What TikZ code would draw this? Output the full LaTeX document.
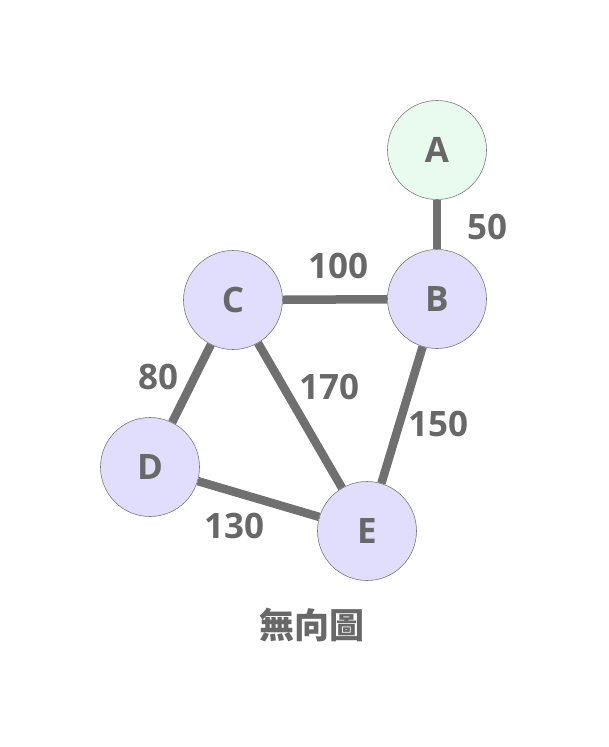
\documentclass[tikz,border=0pt]{standalone}
\usepackage{fontspec}
\setmainfont{Open Sans}
\newfontfamily\cjk{Noto Sans CJK TC}
\usetikzlibrary{positioning, backgrounds}
\definecolor{color_node}{HTML}{E0DEFC}
\definecolor{color_start}{HTML}{E8FBEE}
\definecolor{color_line}{HTML}{707070}
\definecolor{color_rim}{HTML}{7A7A7A}
\definecolor{color_text}{HTML}{686868}
\tikzset{
  graph_vertex/.style={circle, draw=color_rim, line width=0.6pt, fill=color_node, minimum size=99pt, inner sep=0pt, text=color_text, font=\fontsize{35}{40}\selectfont\bfseries},
  start_vertex/.style={graph_vertex, fill=color_start},
  graph_edge/.style={draw=color_line, line width=8.5pt},
  weight_label/.style={text=color_text, font=\fontsize{35}{40}\selectfont\bfseries, inner sep=0pt},
}

\begin{document}
\begin{tikzpicture}[x=1pt, y=-1pt]
    \useasboundingbox (0,0) rectangle (608,747);
    % Vertices
    \node[start_vertex] (a) at (437,150) {A};
    \node[graph_vertex] (b) at (437,299) {B};
    \node[graph_vertex] (c) at (233,300) {C};
    \node[graph_vertex] (d) at (150,467) {D};
    \node[graph_vertex] (e) at (367,531) {E};
    % Edges
    \begin{scope}[on background layer]
      \draw[graph_edge] (a) -- (b);
      \draw[graph_edge] (c) -- (b);
      \draw[graph_edge] (c) -- (d);
      \draw[graph_edge] (c) -- (e);
      \draw[graph_edge] (b) -- (e);
      \draw[graph_edge] (d) -- (e);
    \end{scope}
    % Weights
    \node[weight_label] (w_ab) at (487,227) {50};
    \node[weight_label] (w_cb) at (338,266) {100};
    \node[weight_label] (w_cd) at (158,377) {80};
    \node[weight_label] (w_ce) at (329,387) {170};
    \node[weight_label] (w_be) at (438,424) {150};
    \node[weight_label] (w_de) at (234,526) {130};
    % Caption
    \node[text=color_text, font=\fontsize{35}{40}\selectfont\cjk\bfseries] (title) at (312,625) {無向圖};
  \end{tikzpicture}
\end{document}
